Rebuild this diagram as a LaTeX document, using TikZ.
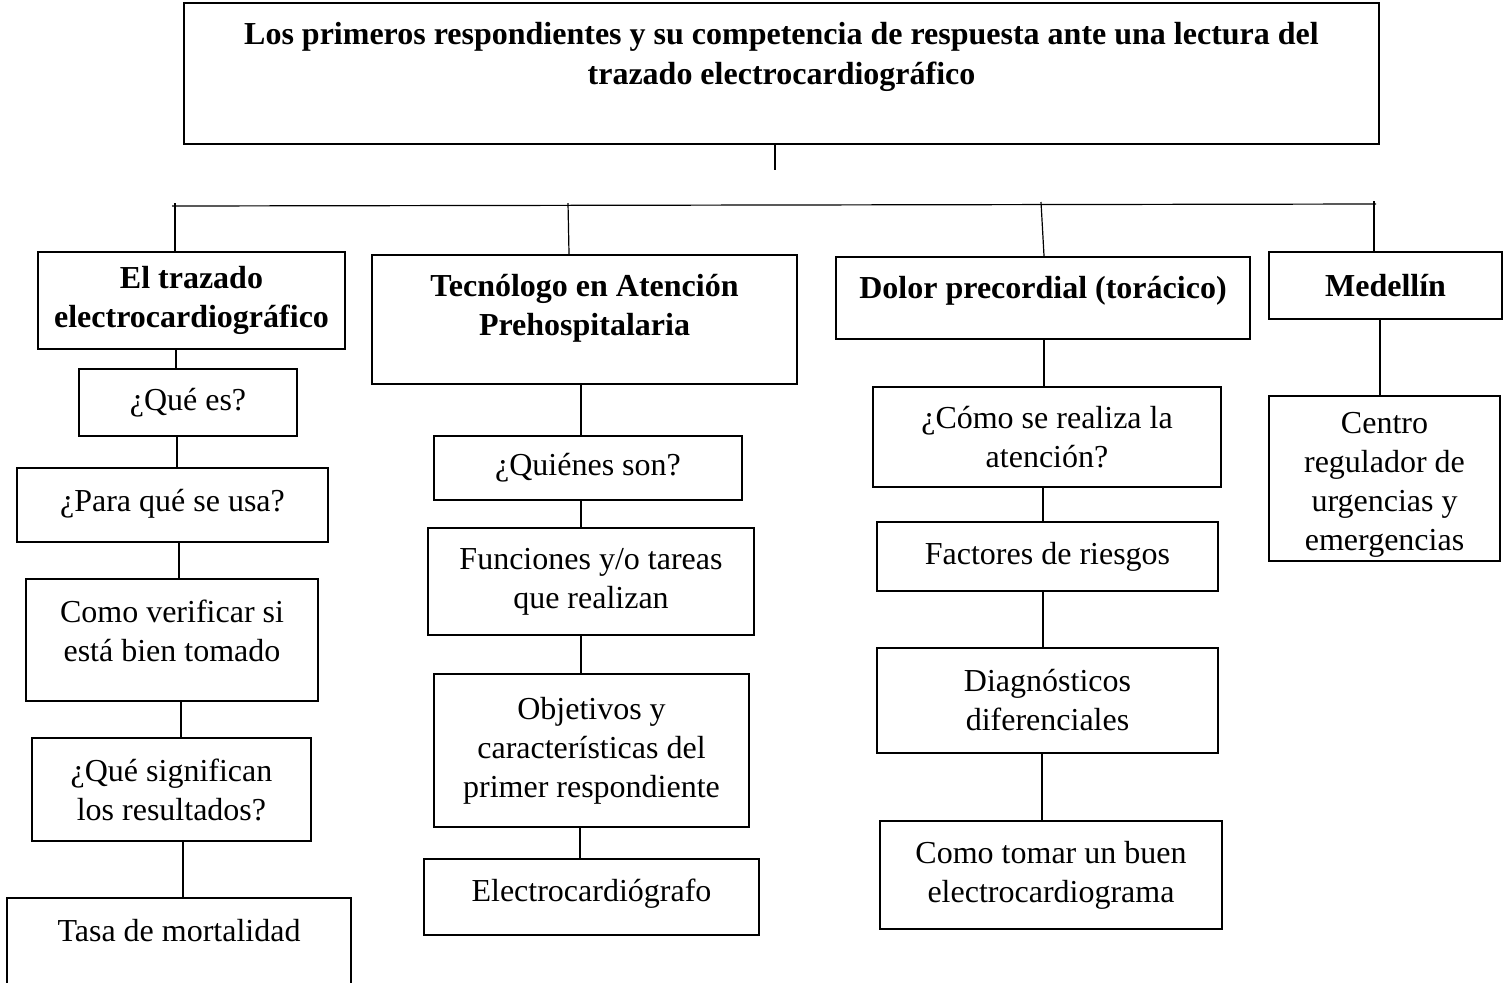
\documentclass[tikz,border=0pt]{standalone}
\usepackage{fontspec}
\setmainfont{Liberation Serif}
\usetikzlibrary{calc}

% invisible strut that lifts the text inside a box
\newcommand{\lifttext}[1]{\rule[-#1]{0pt}{0pt}}

\begin{document}
\begin{tikzpicture}[
  x=0.5pt, y=-0.5pt,
  box/.style={draw, line width=1.2pt, align=center, inner sep=2pt, font=\fontsize{16}{19.5}\selectfont},
  head/.style={box, font=\fontsize{16}{19.5}\selectfont\bfseries},
  link/.style={line width=0.6pt}
]
\useasboundingbox (0,0) rectangle (1507,982);

\node[head, minimum width=597.5pt, minimum height=70.5pt, font=\fontsize{16}{20}\selectfont\bfseries] (title) at (781.5,73.5)
  {Los primeros respondientes y su competencia de respuesta ante una lectura del\\trazado electrocardiográfico\lifttext{20.5pt}};

% headers
\node[head, minimum width=153.5pt, minimum height=48.5pt] (trazado) at (191.5,300.5) {El trazado\\electrocardiográfico};
\node[head, minimum width=212.5pt, minimum height=64.5pt] (tecno) at (584.5,319.5) {Tecnólogo en Atención\\Prehospitalaria\lifttext{15pt}};
\node[head, minimum width=207pt, minimum height=41pt] (dolor) at (1043,298) {Dolor precordial (torácico)\lifttext{11pt}};
\node[head, minimum width=116.5pt, minimum height=33.5pt] (medellin) at (1385.5,285.5) {Medellín};

\coordinate (tdrop) at (775,170);
\draw[link] (title.south -| tdrop) -- (tdrop);
\coordinate (barL) at (172,206);
\coordinate (barR) at (1376,204);
\draw[link] (barL) -- (barR);
\coordinate (d1) at (175,203);
\coordinate (d2) at (568,203);
\coordinate (d3) at (1041,202);
\coordinate (d4) at (1374,201);
\draw[link] (d1) -- (d1 |- trazado.north);
\draw[link] (d2) -- (tecno.north -| 569,0);
\draw[link] (d3) -- (dolor.north -| 1044,0);
\draw[link] (d4) -- (d4 |- medellin.north);

% column 1
\node[box, minimum width=109pt, minimum height=33.5pt] (quees) at (188,402.5) {¿Qué es?};
\node[box, minimum width=155.5pt, minimum height=37pt] (parauso) at (172.5,505) {¿Para qué se usa?\lifttext{5pt}};
\node[box, minimum width=146pt, minimum height=61pt] (verificar) at (172,640) {Como verificar si\\está bien tomado\lifttext{9pt}};
\node[box, minimum width=139.5pt, minimum height=51.5pt] (resultados) at (171.5,789.5) {¿Qué significan\\los resultados?};
\node[box, minimum width=172pt, minimum height=56pt] (tasa) at (179,954) {Tasa de mortalidad\lifttext{24pt}};
\draw[link] (trazado.south -| 176,0) -- (quees.north -| 176,0);
\draw[link] (quees.south -| 177,0) -- (parauso.north -| 177,0);
\draw[link] (parauso.south -| 179,0) -- (verificar.north -| 179,0);
\draw[link] (verificar.south -| 181,0) -- (resultados.north -| 181,0);
\draw[link] (resultados.south -| 183,0) -- (tasa.north -| 183,0);

% column 2
\node[box, minimum width=154pt, minimum height=32pt] (quienes) at (588,468) {¿Quiénes son?};
\node[box, minimum width=163pt, minimum height=53.5pt] (funciones) at (591,581.5) {Funciones y/o tareas\\que realizan};
\node[box, minimum width=157.5pt, minimum height=76.5pt] (objetivos) at (591.5,750.5) {Objetivos y\\características del\\primer respondiente};
\node[box, minimum width=167.5pt, minimum height=38pt] (ecgrafo) at (591.5,897) {Electrocardiógrafo\lifttext{7pt}};
\draw[link] (tecno.south -| 581,0) -- (quienes.north -| 581,0);
\draw[link] (quienes.south -| 581,0) -- (funciones.north -| 581,0);
\draw[link] (funciones.south -| 581,0) -- (objetivos.north -| 581,0);
\draw[link] (objetivos.south -| 580,0) -- (ecgrafo.north -| 580,0);

% column 3
\node[box, minimum width=174pt, minimum height=50pt] (atencion) at (1047,437) {¿Cómo se realiza la\\atención?};
\node[box, minimum width=170.5pt, minimum height=34.5pt] (riesgos) at (1047.5,556.5) {Factores de riesgos};
\node[box, minimum width=170.5pt, minimum height=52.5pt] (diagnos) at (1047.5,700.5) {Diagnósticos\\diferenciales};
\node[box, minimum width=171pt, minimum height=54pt] (tomar) at (1051,875) {Como tomar un buen\\electrocardiograma};
\draw[link] (dolor.south -| 1044,0) -- (atencion.north -| 1044,0);
\draw[link] (atencion.south -| 1043,0) -- (riesgos.north -| 1043,0);
\draw[link] (riesgos.south -| 1043,0) -- (diagnos.north -| 1043,0);
\draw[link] (diagnos.south -| 1042,0) -- (tomar.north -| 1042,0);

% column 4
\node[box, minimum width=115.5pt, minimum height=82.5pt, inner ysep=1pt, font=\fontsize{16}{19.5}\selectfont] (centro) at (1384.5,478.5) {\rule{0pt}{17pt}Centro\\regulador de\\urgencias y\\emergencias};
\draw[link] (medellin.south -| 1380,0) -- (centro.north -| 1380,0);

\end{tikzpicture}
\end{document}
